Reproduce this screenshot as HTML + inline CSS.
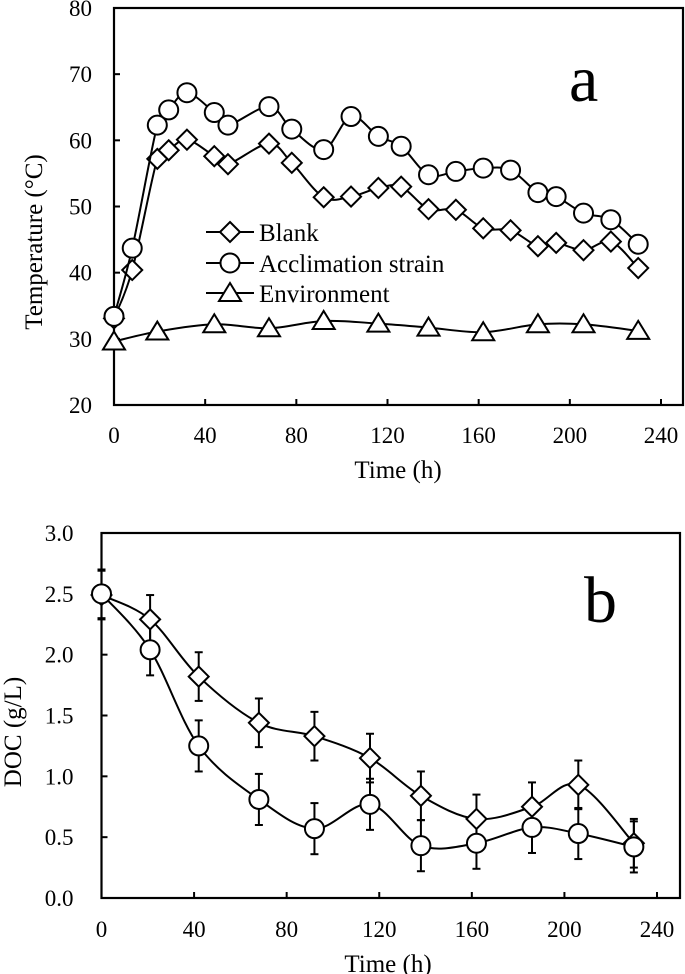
<!DOCTYPE html>
<html><head><meta charset="utf-8"><style>
body{margin:0;background:#fff}
svg{display:block;font-family:"Liberation Serif",serif}
</style></head><body>
<svg id="s" width="685" height="974" viewBox="0 0 685 974"></svg>
<script>
// Panel a data
const hoursA = [0,8,19,24,32,44,50,68,78,92,104,116,126,138,150,162,174,186,194,206,218,230];
const blankA = [33.1,40.4,57.2,58.5,60.1,57.6,56.4,59.5,56.6,51.4,51.5,52.8,53,49.6,49.5,46.7,46.4,44,44.5,43.4,44.7,40.7];
const acclA = [33.4,43.7,62.3,64.6,67.2,64.2,62.3,65.1,61.7,58.6,63.6,60.6,59.1,54.8,55.3,55.8,55.5,52.1,51.5,49,48,44.3];
const hoursEnv = [0,19,44,68,92,116,138,162,186,206,230];
const envA = [29.6,31.1,32.2,31.6,32.7,32.3,31.7,31,32.2,32.2,31.2];
const ticksXA = [0,40,80,120,160,200,240];
const ticksYA = [20,30,40,50,60,70,80];
// Panel b data
const hoursB = [0,21,42,68,92,116,138,162,186,206,230];
const blankB = [2.49,2.29,1.82,1.44,1.33,1.15,0.84,0.65,0.75,0.93,0.45];
const blankErr = [0.2,0.2,0.2,0.2,0.2,0.2,0.2,0.2,0.2,0.2,0.2];
const acclB = [2.5,2.04,1.25,0.81,0.57,0.77,0.43,0.45,0.58,0.53,0.42];
const acclErr = [0.2,0.21,0.21,0.21,0.21,0.21,0.21,0.21,0.21,0.21,0.21];
const ticksXB = [0,40,80,120,160,200,240];
const ticksYB = ["0.0","0.5","1.0","1.5","2.0","2.5","3.0"];

const NS="http://www.w3.org/2000/svg";
const svg=document.getElementById('s');
function el(tag,attrs,parent){const e=document.createElementNS(NS,tag);for(const k in attrs)e.setAttribute(k,attrs[k]);(parent||svg).appendChild(e);return e;}
function smooth(pts){
  let d=`M${pts[0][0]},${pts[0][1]}`;
  for(let i=0;i<pts.length-1;i++){
    const p0=pts[i-1]||pts[i],p1=pts[i],p2=pts[i+1],p3=pts[i+2]||p2;
    const t=1/6;
    d+=` C${p1[0]+(p2[0]-p0[0])*t},${p1[1]+(p2[1]-p0[1])*t} ${p2[0]-(p3[0]-p1[0])*t},${p2[1]-(p3[1]-p1[1])*t} ${p2[0]},${p2[1]}`;
  }
  return d;
}
function marker(type,x,y,g){
  if(type==='d') return el('polygon',{points:`${x},${y-10} ${x+10},${y} ${x},${y+10} ${x-10},${y}`,fill:'#fff',stroke:'#000','stroke-width':2},g);
  if(type==='c') return el('circle',{cx:x,cy:y,r:9.5,fill:'#fff',stroke:'#000','stroke-width':2},g);
  return el('polygon',{points:`${x},${y-10} ${x+11},${y+8} ${x-11},${y+8}`,fill:'#fff',stroke:'#000','stroke-width':2},g);
}
function axes(L,R,T,B,xs,xt,ys,yt,ylabels,gname,gapY,xlabY){
  const g=el('g',{});
  
  
  el('rect',{x:L,y:T,width:R-L,height:B-T,fill:'none',stroke:'#000','stroke-width':2.2},g);
  xt.forEach(v=>{const x=xs(v);
    el('line',{x1:x,y1:B,x2:x,y2:B-6,stroke:'#000','stroke-width':2},g);
    const t=el('text',{x:x,y:xlabY,'font-size':23,'text-anchor':'middle'},g);t.textContent=v;
    
    });
  yt.forEach((v,i)=>{const y=ys(+v);
    el('line',{x1:L,y1:y,x2:L+6,y2:y,stroke:'#000','stroke-width':2},g);
    const t=el('text',{x:L-gapY,y:y+8,'font-size':23,'text-anchor':'end'},g);t.textContent=ylabels?ylabels[i]:v;
    
    });
  return g;
}
function series(xsArr,ysArr,xs,ys,type,name,smoothIt){
  const g=el('g',{});
  
  
  const pts=xsArr.map((h,i)=>[xs(h),ys(ysArr[i])]);
  el('path',{d:smoothIt?smooth(pts):'M'+pts.map(p=>p.join(',')).join(' L'),fill:'none',stroke:'#000','stroke-width':2},g);
  pts.forEach(p=>{const m=marker(type,p[0],p[1],g);
    
    });
  return g;
}
// Panel a
const aL=114,aR=683,aT=8,aB=405;
const xA=h=>aL+h*(661-114)/240, yA=v=>aB-(v-20)*(aB-aT)/60;
axes(aL,aR,aT,aB,xA,ticksXA,yA,ticksYA,null,'panel-a-axes',22,443);
series(hoursEnv,envA,xA,yA,'t','environment-series',true);
series(hoursA,blankA,xA,yA,'d','blank-series-a',true);
series(hoursA,acclA,xA,yA,'c','acclimation-series-a',true);
let t;
t=el('text',{x:398,y:478,'font-size':25,'text-anchor':'middle'});t.textContent='Time (h)';

t=el('text',{x:0,y:0,'font-size':25,'text-anchor':'middle',transform:'translate(42,242) rotate(-90)'});t.textContent='Temperature  (°C)';

t=el('text',{x:569,y:101,'font-size':66});t.textContent='a';

[['Blank','d',232],['Acclimation strain','c',263],['Environment','t',293]].forEach(([lab,ty,y])=>{
  const g=el('g',{});
  
  
  el('line',{x1:206,y1:y,x2:254,y2:y,stroke:'#000','stroke-width':2},g);
  marker(ty,230,y,g);
  const tt=el('text',{x:259,y:y+9,'font-size':25},g);tt.textContent=lab;
});
// Panel b
const bL=101.5,bR=680,bT=533,bB=898;
const xB=h=>bL+h*(657-101.5)/240, yB=v=>bB-v*(bB-bT)/3;
axes(bL,bR,bT,bB,xB,ticksXB,yB,ticksYB,ticksYB,'panel-b-axes',28,937);
function errs(xsArr,vals,e,name){
  const g=el('g',{});
  
  
  xsArr.forEach((h,i)=>{const x=xB(h),y1=yB(vals[i]+e[i]),y2=yB(vals[i]-e[i]);
    el('line',{x1:x,y1:y1,x2:x,y2:y2,stroke:'#000','stroke-width':2},g);
    el('line',{x1:x-4,y1:y1,x2:x+4,y2:y1,stroke:'#000','stroke-width':2},g);
    el('line',{x1:x-4,y1:y2,x2:x+4,y2:y2,stroke:'#000','stroke-width':2},g);});
}
errs(hoursB,blankB,blankErr,'blank-error-bars');
errs(hoursB,acclB,acclErr,'acclimation-error-bars');
series(hoursB,blankB,xB,yB,'d','blank-series-b',true);
series(hoursB,acclB,xB,yB,'c','acclimation-series-b',true);
t=el('text',{x:388,y:972,'font-size':25,'text-anchor':'middle'});t.textContent='Time (h)';

t=el('text',{x:0,y:0,'font-size':25,'text-anchor':'middle',transform:'translate(21,732) rotate(-90)'});t.textContent='DOC (g/L)';

t=el('text',{x:584,y:622,'font-size':66});t.textContent='b';

</script>
</body></html>
